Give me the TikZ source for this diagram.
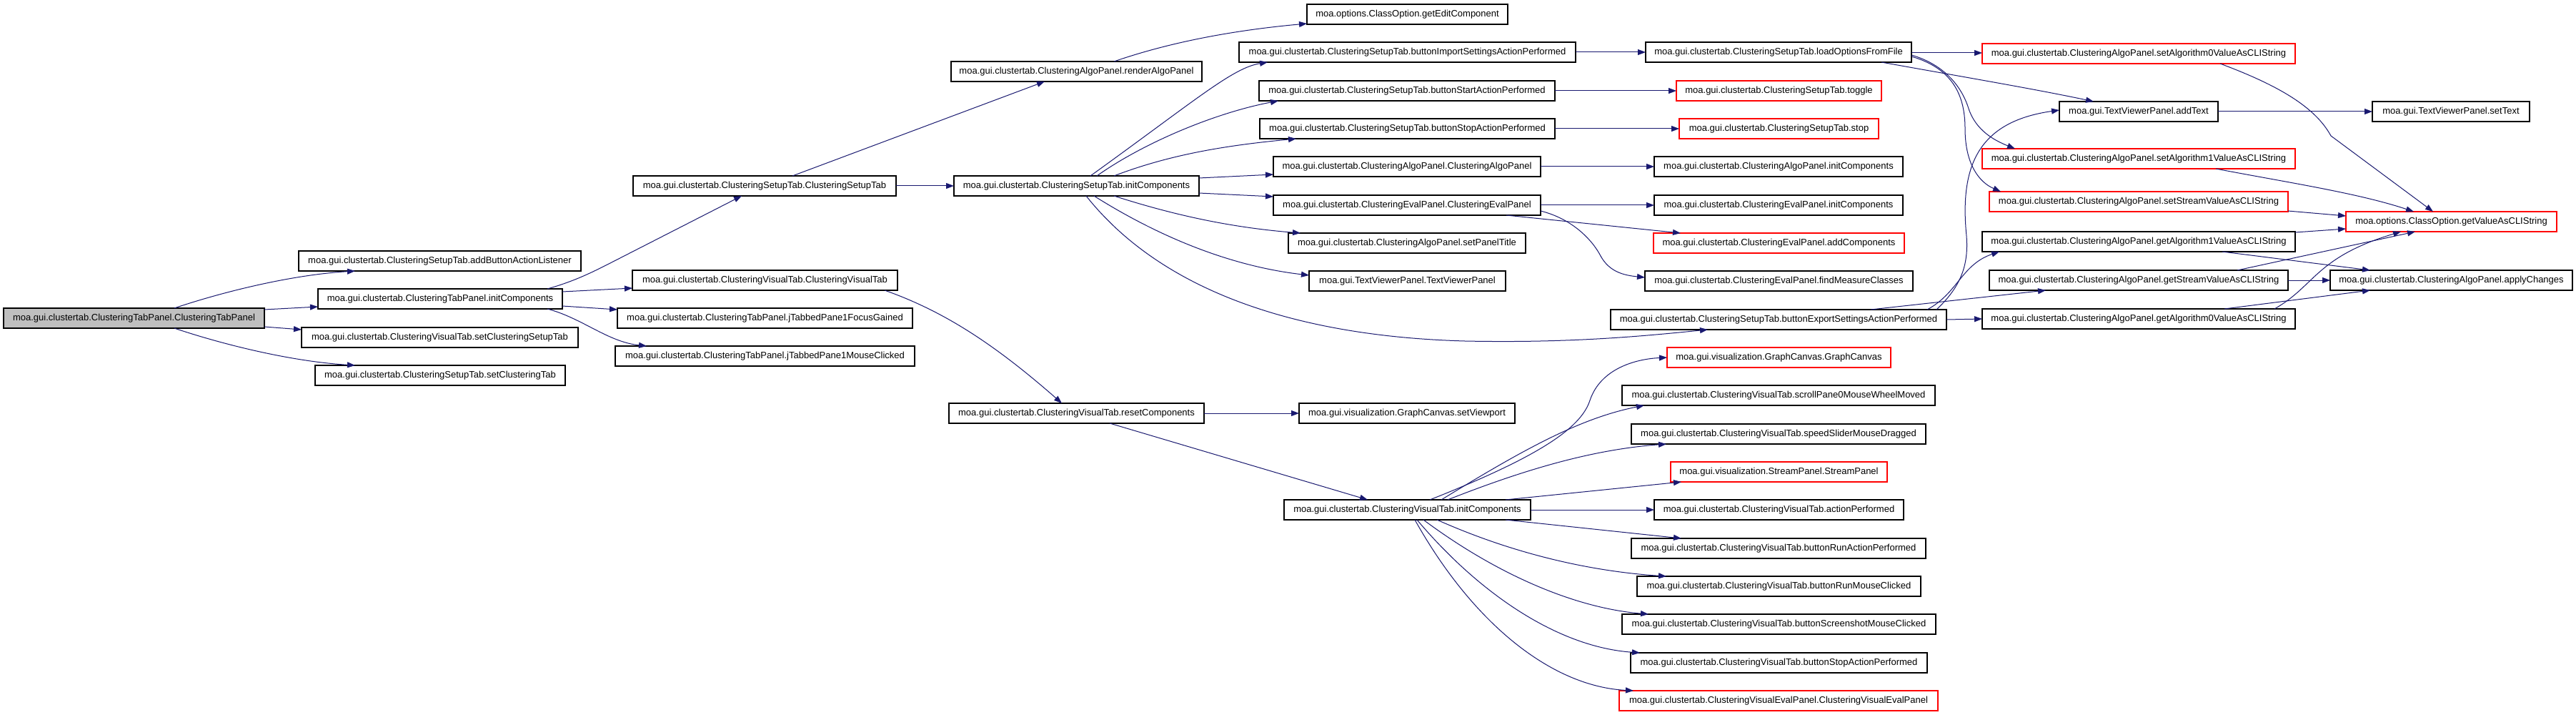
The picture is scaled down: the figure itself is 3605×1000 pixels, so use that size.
\documentclass[tikz,border=0pt]{standalone}
\usepackage{fontspec}
\newfontfamily\doxfont{Liberation Sans}
\usetikzlibrary{arrows.meta}
\definecolor{edgeblue}{HTML}{191970}
\definecolor{rootgray}{HTML}{BFBFBF}
\begin{document}
\begin{tikzpicture}[x=1pt,y=1pt,
  box/.style={draw=black, line width=1.2pt, rectangle, minimum height=28pt, inner sep=0pt, outer sep=0pt,
    font=\doxfont\fontsize{13}{15}\selectfont, fill=white},
  redbox/.style={box, draw=red},
  rootbox/.style={box, fill=rootgray},
  e/.style={draw=edgeblue, line width=1pt, -{Triangle[length=11pt,width=8pt]}}]
\fill[white] (0,0) rectangle (3605,-1000);
\path[use as bounding box] (0,0) rectangle (3605,-1000);

% column 0
\node[rootbox, minimum width=365pt] (root) at (187.5,-445) {moa.gui.clustertab.ClusteringTabPanel.ClusteringTabPanel};
% column 1
\node[box, minimum width=395pt] (addBtn) at (615.5,-365) {moa.gui.clustertab.ClusteringSetupTab.addButtonActionListener};
\node[box, minimum width=342pt] (tpInit) at (616,-418) {moa.gui.clustertab.ClusteringTabPanel.initComponents};
\node[box, minimum width=387pt] (setCST) at (615.5,-472) {moa.gui.clustertab.ClusteringVisualTab.setClusteringSetupTab};
\node[box, minimum width=350pt] (setCT) at (616,-525) {moa.gui.clustertab.ClusteringSetupTab.setClusteringTab};
% column 2
\node[box, minimum width=368pt] (stCtor) at (1070,-260) {moa.gui.clustertab.ClusteringSetupTab.ClusteringSetupTab};
\node[box, minimum width=371pt] (vtCtor) at (1070.5,-392) {moa.gui.clustertab.ClusteringVisualTab.ClusteringVisualTab};
\node[box, minimum width=413pt] (focus) at (1070.5,-445) {moa.gui.clustertab.ClusteringTabPanel.jTabbedPane1FocusGained};
\node[box, minimum width=419pt] (mouse) at (1070.5,-498) {moa.gui.clustertab.ClusteringTabPanel.jTabbedPane1MouseClicked};
% column 3
\node[box, minimum width=351pt] (render) at (1506.5,-100) {moa.gui.clustertab.ClusteringAlgoPanel.renderAlgoPanel};
\node[box, minimum width=343pt] (stInit) at (1506.5,-260) {moa.gui.clustertab.ClusteringSetupTab.initComponents};
\node[box, minimum width=357pt] (reset) at (1506.5,-578) {moa.gui.clustertab.ClusteringVisualTab.resetComponents};
% column 4
\node[box, minimum width=281pt] (getEdit) at (1969.5,-20) {moa.options.ClassOption.getEditComponent};
\node[box, minimum width=471pt] (bImport) at (1969.5,-73) {moa.gui.clustertab.ClusteringSetupTab.buttonImportSettingsActionPerformed};
\node[box, minimum width=414pt] (bStart) at (1969,-127) {moa.gui.clustertab.ClusteringSetupTab.buttonStartActionPerformed};
\node[box, minimum width=413pt] (bStop) at (1969.5,-180) {moa.gui.clustertab.ClusteringSetupTab.buttonStopActionPerformed};
\node[box, minimum width=374pt] (apCtor) at (1969,-233) {moa.gui.clustertab.ClusteringAlgoPanel.ClusteringAlgoPanel};
\node[box, minimum width=374pt] (epCtor) at (1969,-287) {moa.gui.clustertab.ClusteringEvalPanel.ClusteringEvalPanel};
\node[box, minimum width=332pt] (panelTitle) at (1969,-340) {moa.gui.clustertab.ClusteringAlgoPanel.setPanelTitle};
\node[box, minimum width=275pt] (tvpCtor) at (1969.5,-393) {moa.gui.TextViewerPanel.TextViewerPanel};
\node[box, minimum width=302pt] (setViewport) at (1969,-578) {moa.gui.visualization.GraphCanvas.setViewport};
\node[box, minimum width=345pt] (vtInit) at (1969.5,-713) {moa.gui.clustertab.ClusteringVisualTab.initComponents};
% column 5
\node[box, minimum width=372pt] (loadOpts) at (2489,-73) {moa.gui.clustertab.ClusteringSetupTab.loadOptionsFromFile};
\node[redbox, minimum width=287pt] (toggle) at (2489.5,-127) {moa.gui.clustertab.ClusteringSetupTab.toggle};
\node[redbox, minimum width=279pt] (stop) at (2489.5,-180) {moa.gui.clustertab.ClusteringSetupTab.stop};
\node[box, minimum width=348pt] (apInit) at (2489,-233) {moa.gui.clustertab.ClusteringAlgoPanel.initComponents};
\node[box, minimum width=348pt] (epInit) at (2489,-287) {moa.gui.clustertab.ClusteringEvalPanel.initComponents};
\node[redbox, minimum width=351pt] (addComp) at (2489.5,-340) {moa.gui.clustertab.ClusteringEvalPanel.addComponents};
\node[box, minimum width=375pt] (findMeas) at (2489.5,-393) {moa.gui.clustertab.ClusteringEvalPanel.findMeasureClasses};
\node[box, minimum width=470pt] (bExport) at (2489,-447) {moa.gui.clustertab.ClusteringSetupTab.buttonExportSettingsActionPerformed};
\node[redbox, minimum width=313pt] (gcCtor) at (2489.5,-500) {moa.gui.visualization.GraphCanvas.GraphCanvas};
\node[box, minimum width=438pt] (scroll) at (2489,-553) {moa.gui.clustertab.ClusteringVisualTab.scrollPane0MouseWheelMoved};
\node[box, minimum width=412pt] (speed) at (2489,-607) {moa.gui.clustertab.ClusteringVisualTab.speedSliderMouseDragged};
\node[redbox, minimum width=303pt] (stream) at (2489.5,-660) {moa.gui.visualization.StreamPanel.StreamPanel};
\node[box, minimum width=349pt] (action) at (2489.5,-713) {moa.gui.clustertab.ClusteringVisualTab.actionPerformed};
\node[box, minimum width=412pt] (runAct) at (2489,-767) {moa.gui.clustertab.ClusteringVisualTab.buttonRunActionPerformed};
\node[box, minimum width=397pt] (runMouse) at (2489.5,-820) {moa.gui.clustertab.ClusteringVisualTab.buttonRunMouseClicked};
\node[box, minimum width=439pt] (shot) at (2489.5,-873) {moa.gui.clustertab.ClusteringVisualTab.buttonScreenshotMouseClicked};
\node[box, minimum width=415pt] (vStop) at (2489.5,-927) {moa.gui.clustertab.ClusteringVisualTab.buttonStopActionPerformed};
\node[redbox, minimum width=446pt] (vep) at (2489,-980) {moa.gui.clustertab.ClusteringVisualEvalPanel.ClusteringVisualEvalPanel};
% column 6
\node[redbox, minimum width=438pt] (setA0) at (2993,-75) {moa.gui.clustertab.ClusteringAlgoPanel.setAlgorithm0ValueAsCLIString};
\node[box, minimum width=222pt] (addText) at (2993,-156) {moa.gui.TextViewerPanel.addText};
\node[redbox, minimum width=438pt] (setA1) at (2993,-222) {moa.gui.clustertab.ClusteringAlgoPanel.setAlgorithm1ValueAsCLIString};
\node[redbox, minimum width=418pt] (setStr) at (2993,-282) {moa.gui.clustertab.ClusteringAlgoPanel.setStreamValueAsCLIString};
\node[box, minimum width=438pt] (getA1) at (2993,-338) {moa.gui.clustertab.ClusteringAlgoPanel.getAlgorithm1ValueAsCLIString};
\node[box, minimum width=418pt] (getStr) at (2993,-392) {moa.gui.clustertab.ClusteringAlgoPanel.getStreamValueAsCLIString};
\node[box, minimum width=438pt] (getA0) at (2993,-446) {moa.gui.clustertab.ClusteringAlgoPanel.getAlgorithm0ValueAsCLIString};
% column 7
\node[box, minimum width=220pt] (setText) at (3430,-156) {moa.gui.TextViewerPanel.setText};
\node[redbox, minimum width=295pt] (getVal) at (3430.5,-310) {moa.options.ClassOption.getValueAsCLIString};
\node[box, minimum width=339pt] (apply) at (3430.5,-392) {moa.gui.clustertab.ClusteringAlgoPanel.applyChanges};

% edges from root
\draw[e] ([xshift=239pt]root.north west) .. controls (300,-412) and (400,-385) .. ([xshift=79pt]addBtn.south west);
\draw[e] ([yshift=-2pt]root.north east) -- ([yshift=3pt]tpInit.south west);
\draw[e] ([yshift=2pt]root.south east) -- ([yshift=-3pt]setCST.north west);
\draw[e] ([xshift=239pt]root.south west) .. controls (300,-478) and (400,-505) .. ([xshift=56pt]setCT.north west);
% from TabPanel.initComponents
\draw[e] ([xshift=321pt]tpInit.north west) .. controls (805,-393) and (830,-380) .. (850,-370) -- ([xshift=152pt]stCtor.south west);
\draw[e] ([yshift=-4pt]tpInit.north east) -- ([yshift=3pt]vtCtor.south west);
\draw[e] ([yshift=4pt]tpInit.south east) -- ([yshift=-2pt]focus.north west);
\draw[e] ([xshift=321pt]tpInit.south west) .. controls (815,-445) and (850,-478) .. ([xshift=44pt]mouse.north west);
% from SetupTab ctor
\draw[e] ([xshift=223pt]stCtor.north west) -- ([xshift=131pt]render.south west);
\draw[e] (stCtor.east) -- (stInit.west);
\draw[e] ([xshift=228pt]render.north west) .. controls (1640,-58) and (1730,-42) .. ([yshift=1pt]getEdit.south west);
% from SetupTab.initComponents
\draw[e] ([xshift=191pt]stInit.north west) .. controls (1676,-138) and (1725,-95) .. ([xshift=40pt]bImport.south west);
\draw[e] ([xshift=200pt]stInit.north west) .. controls (1600,-200) and (1700,-158) .. ([xshift=27pt]bStart.south west);
\draw[e] ([xshift=224pt]stInit.north west) .. controls (1640,-215) and (1720,-203) .. ([xshift=51pt]bStop.south west);
\draw[e] ([yshift=-3pt]stInit.north east) -- ([yshift=3pt]apCtor.south west);
\draw[e] ([yshift=4pt]stInit.south east) -- ([yshift=-2pt]epCtor.north west);
\draw[e] ([xshift=224pt]stInit.south west) .. controls (1640,-300) and (1720,-318) .. ([xshift=17pt]panelTitle.north west);
\draw[e] ([xshift=196pt]stInit.south west) .. controls (1620,-330) and (1720,-372) .. ([yshift=-6pt]tvpCtor.north west);
\draw[e] ([xshift=185pt]stInit.south west) .. controls (1620,-400) and (1800,-470) .. (2050,-477) .. controls (2200,-480) and (2300,-470) .. ([xshift=136pt]bExport.south west);
% column 4 to column 5
\draw[e] (bImport.east) -- (loadOpts.west);
\draw[e] (bStart.east) -- (toggle.west);
\draw[e] (bStop.east) -- (stop.west);
\draw[e] (apCtor.east) -- (apInit.west);
\draw[e] (epCtor.east) -- (epInit.west);
\draw[e] ([xshift=326pt]epCtor.south west) -- ([xshift=38pt]addComp.north west);
\draw[e] ([yshift=6pt]epCtor.south east) .. controls (2200,-306) and (2228,-335) .. (2240,-358) .. controls (2252,-380) and (2272,-385) .. ([yshift=-9pt]findMeas.north west);
% visual tab
\draw[e] ([xshift=353pt]vtCtor.south west) .. controls (1320,-435) and (1390,-480) .. ([xshift=158pt]reset.north west);
\draw[e] (reset.east) -- (setViewport.west);
\draw[e] ([xshift=225pt]reset.south west) -- ([xshift=117pt]vtInit.north west);
% from VisualTab.initComponents
\draw[e] ([xshift=204pt]vtInit.north west) .. controls (2150,-640) and (2212,-600) .. (2225,-560) .. controls (2240,-515) and (2290,-502) .. (gcCtor.west);
\draw[e] ([xshift=220pt]vtInit.north west) .. controls (2130,-630) and (2210,-585) .. ([xshift=31pt]scroll.south west);
\draw[e] ([xshift=229pt]vtInit.north west) .. controls (2150,-650) and (2240,-628) .. ([xshift=49pt]speed.south west);
\draw[e] ([xshift=310pt]vtInit.north west) -- ([xshift=15pt]stream.south west);
\draw[e] (vtInit.east) -- (action.west);
\draw[e] ([xshift=310pt]vtInit.south west) -- ([xshift=70pt]runAct.north west);
\draw[e] ([xshift=214pt]vtInit.south west) .. controls (2130,-780) and (2240,-800) .. ([xshift=41pt]runMouse.north west);
\draw[e] ([xshift=195pt]vtInit.south west) .. controls (2090,-800) and (2200,-850) .. ([xshift=37pt]shot.north west);
\draw[e] ([xshift=186pt]vtInit.south west) .. controls (2070,-830) and (2180,-905) .. ([xshift=13pt]vStop.north west);
\draw[e] ([xshift=183pt]vtInit.south west) .. controls (2060,-870) and (2170,-960) .. ([xshift=20pt]vep.north west);
% from loadOptionsFromFile
\draw[e] ([yshift=-1pt]loadOpts.east) -- ([yshift=1pt]setA0.west);
\draw[e] ([xshift=330pt]loadOpts.south west) .. controls (2750,-108) and (2850,-125) .. ([xshift=48pt]addText.north west);
\draw[e] ([yshift=-4pt]loadOpts.east) .. controls (2720,-90) and (2745,-120) .. (2755,-152) .. controls (2765,-182) and (2790,-196) .. ([xshift=46pt]setA1.north west);
\draw[e] ([yshift=-6pt]loadOpts.east) .. controls (2730,-95) and (2750,-130) .. (2750,-180) .. controls (2750,-230) and (2770,-255) .. ([xshift=16pt]setStr.north west);
% from buttonExportSettingsActionPerformed
\draw[e] ([xshift=456pt]bExport.north west) .. controls (2745,-400) and (2755,-370) .. (2752,-330) .. controls (2742,-230) and (2770,-170) .. ([yshift=2pt]addText.west);
\draw[e] ([xshift=443pt]bExport.north west) .. controls (2740,-410) and (2745,-370) .. ([xshift=24pt]getA1.south west);
\draw[e] ([xshift=364pt]bExport.north west) -- ([xshift=79pt]getStr.south west);
\draw[e] (bExport.east) -- (getA0.west);
% column 6 to column 7
\draw[e] (addText.east) -- (setText.west);
\draw[e] ([xshift=333pt]setA0.south west) .. controls (3190,-120) and (3240,-150) .. (3262,-190) -- ([xshift=122pt]getVal.north west);
\draw[e] ([xshift=327pt]setA1.south west) .. controls (3200,-255) and (3300,-270) .. ([xshift=95pt]getVal.north west);
\draw[e] ([yshift=1pt]setStr.south east) -- ([yshift=-6pt]getVal.north west);
\draw[e] ([yshift=-1pt]getA1.north east) -- ([yshift=4pt]getVal.south west);
\draw[e] ([xshift=336pt]getA1.south west) -- ([xshift=56pt]apply.north west);
\draw[e] ([xshift=347pt]getStr.north west) -- ([xshift=97pt]getVal.south west);
\draw[e] (getStr.east) -- (apply.west);
\draw[e] ([xshift=409pt]getA0.north west) .. controls (3240,-400) and (3240,-360) .. ([xshift=77pt]getVal.south west);
\draw[e] ([xshift=339pt]getA0.north west) -- ([xshift=56pt]apply.south west);
\end{tikzpicture}
\end{document}
